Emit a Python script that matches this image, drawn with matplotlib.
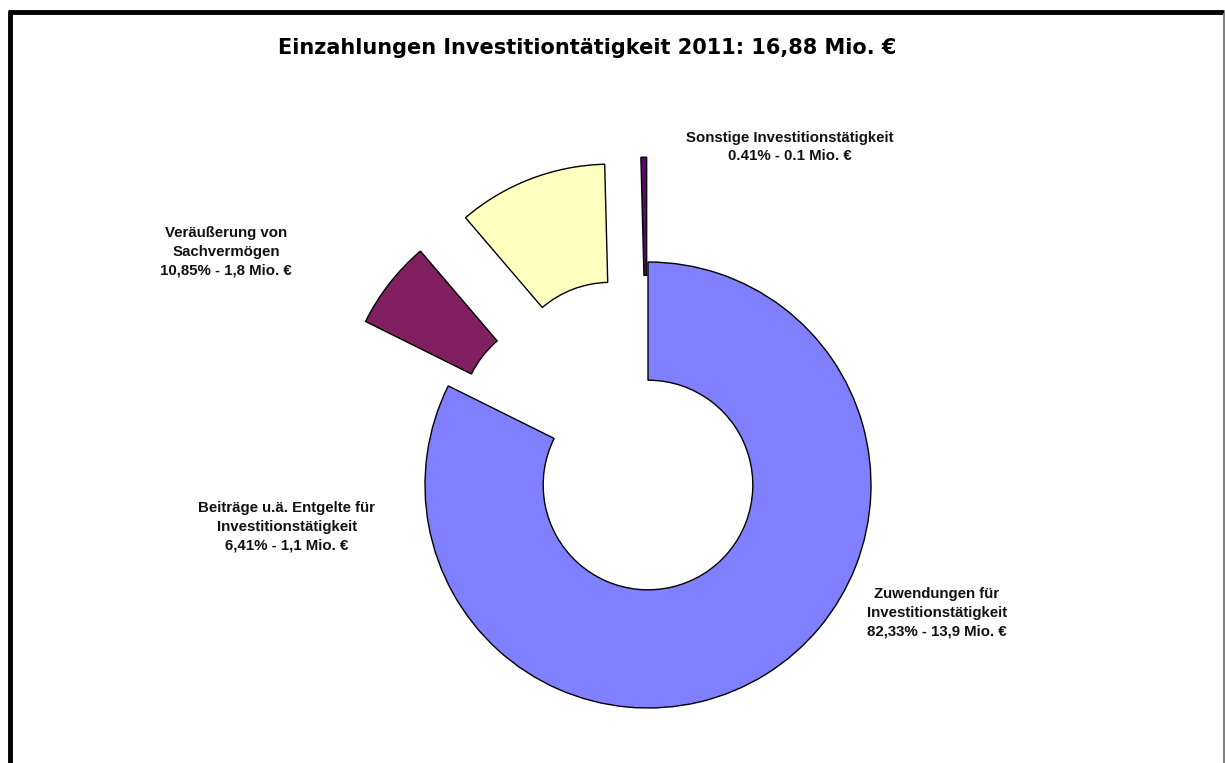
import matplotlib
matplotlib.use("Agg")
import matplotlib.pyplot as plt
from matplotlib.lines import Line2D

W, H = 1225, 763
title = "Einzahlungen Investitiontätigkeit 2011: 16,88 Mio. €"
categories = ["Zuwendungen für\nInvestitionstätigkeit",
              "Beiträge u.ä. Entgelte für\nInvestitionstätigkeit",
              "Veräußerung von\nSachvermögen",
              "Sonstige Investitionstätigkeit"]
shares = [82.33, 6.41, 10.85, 0.41]
label_lines = ["Zuwendungen für\nInvestitionstätigkeit\n82,33% - 13,9 Mio. €",
               "Veräußerung von\nSachvermögen\n10,85% - 1,8 Mio. €",
               "Beiträge u.ä. Entgelte für\nInvestitionstätigkeit\n6,41% - 1,1 Mio. €",
               "Sonstige Investitionstätigkeit\n0.41% - 0.1 Mio. €"]
colors = ["#8080FF", "#802060", "#FFFFC0", "#5A0A6A"]
explode = [0.0, 0.47, 0.47, 0.47]

fig = plt.figure(figsize=(W / 100, H / 100), dpi=100)
ax = fig.add_axes([0, 0, 1, 1])

cx, cy, R = 648, 485, 223  # pixel geometry of the pie
ax.pie(shares, colors=colors, explode=explode, startangle=90, counterclock=False,
       radius=1.0, wedgeprops=dict(width=0.53, edgecolor="black", linewidth=1.0))
ax.set_xlim(-cx / R, (W - cx) / R)
ax.set_ylim(-(H - cy) / R, cy / R)
ax.set_aspect("equal", adjustable="box")
ax.axis("off")

def px(x, y):
    return (x - cx) / R, (cy - y) / R

label_pos = [(937, 613), (226, 252), (287, 527), (790, 147)]
for txt, (x, y) in zip(label_lines, label_pos):
    ax.text(*px(x, y), txt, ha="center", va="center", fontsize=10.8,
            fontweight="bold", family="Liberation Sans", linespacing=1.42,
            color="#111111")

fig.text(587 / W, 1 - 48 / H, title, ha="center", va="center", fontsize=15,
         fontweight="bold", family="DejaVu Sans")

# frame
fig.add_artist(Line2D([9.5 / W, 9.5 / W], [0, 1 - 11 / H], color="black", lw=3.5,
                      transform=fig.transFigure, solid_capstyle="butt"))
fig.add_artist(Line2D([8 / W, 1224 / W], [1 - 11.5 / H, 1 - 11.5 / H], color="black", lw=3.5,
                      transform=fig.transFigure, solid_capstyle="butt"))
fig.add_artist(Line2D([1223.5 / W, 1223.5 / W], [0, 1 - 13 / H], color="#808080", lw=1.5,
                      transform=fig.transFigure, solid_capstyle="butt"))

fig.savefig("out.png", dpi=100)
